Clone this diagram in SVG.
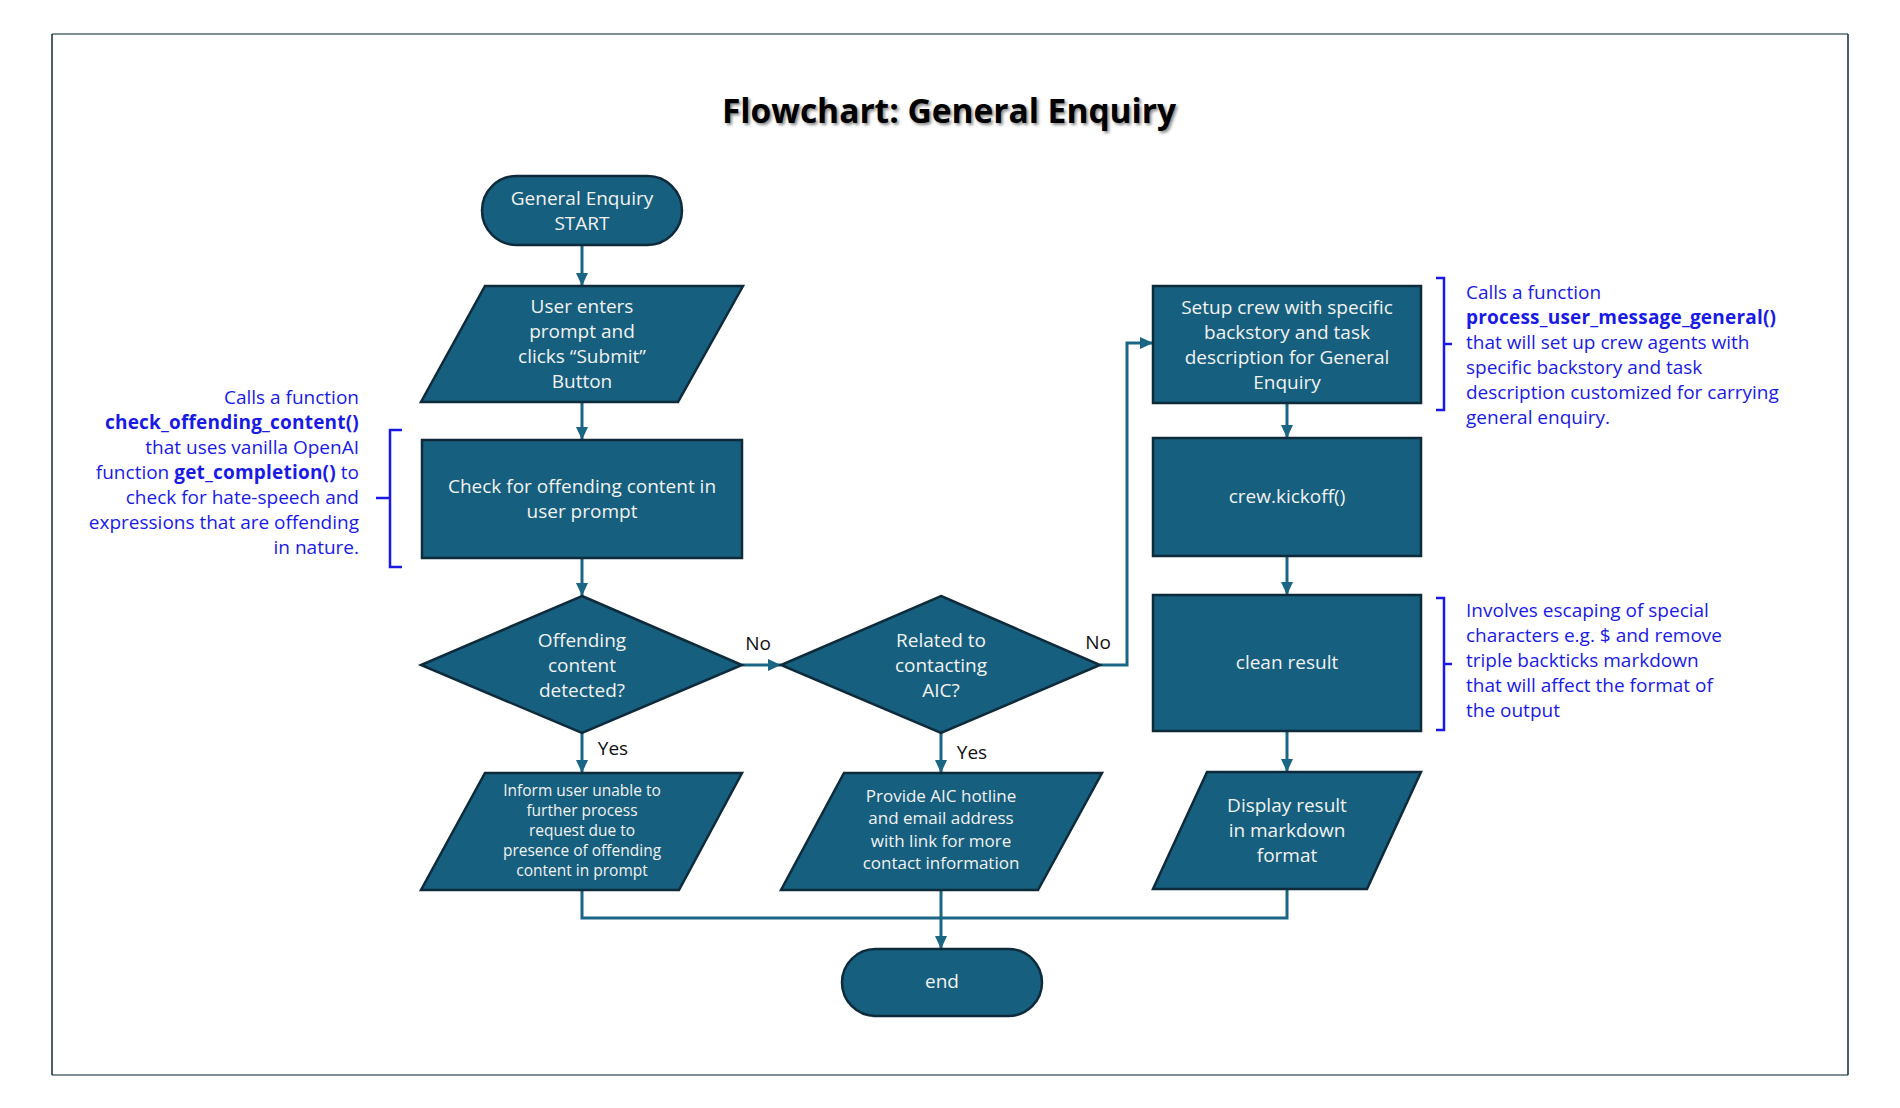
<svg xmlns="http://www.w3.org/2000/svg" width="1900" height="1108" viewBox="0 0 1900 1108">
<style>
.node{fill:#165f7e;stroke:#0e2b3b;stroke-width:2.5}
.nt{font-family:"Open Sans","Liberation Sans",sans-serif;font-size:19px;fill:#f2f2f2;text-anchor:middle}
.sm{font-size:15.5px}
.md{font-size:17px}
.lbl{font-family:"Open Sans","Liberation Sans",sans-serif;font-size:19px;fill:#111;text-anchor:middle}
.ann{font-family:"Open Sans","Liberation Sans",sans-serif;font-size:19px;fill:#1a1ae6}
.b{font-weight:bold;letter-spacing:0.2px}
.con{fill:none;stroke:#1b6585;stroke-width:3}
.brace{fill:none;stroke:#1a1ae6;stroke-width:2.5}
.title{font-family:"Open Sans","Liberation Sans",sans-serif;font-size:33.5px;font-weight:bold;text-anchor:middle}
</style>
<defs>
<marker id="arr" markerUnits="userSpaceOnUse" markerWidth="14" markerHeight="14" refX="13" refY="7" orient="auto">
<path d="M0,1 L13,7 L0,13 Z" fill="#1b6585"/>
</marker>
<filter id="sh" x="-10%" y="-30%" width="120%" height="160%">
<feGaussianBlur stdDeviation="1.5"/>
</filter>
</defs>
<rect width="1900" height="1108" fill="#fff"/>
<g id="frame">
<line x1="52" y1="34" x2="1848" y2="34" stroke="#7f9097" stroke-width="2"/>
<line x1="52" y1="1075" x2="1848" y2="1075" stroke="#7f9097" stroke-width="2"/>
<line x1="52" y1="34" x2="52" y2="1075" stroke="#0e2b3b" stroke-width="1.5"/>
<line x1="1848" y1="34" x2="1848" y2="1075" stroke="#0e2b3b" stroke-width="1.5"/>
</g>
<g id="title">
<text class="title" x="951" y="125" fill="#888" filter="url(#sh)">Flowchart: General Enquiry</text>
<text class="title" x="949" y="123" fill="#000">Flowchart: General Enquiry</text>
</g>
<g id="connectors">
<line class="con" x1="582" y1="245" x2="582" y2="286" marker-end="url(#arr)"/>
<line class="con" x1="582" y1="402" x2="582" y2="440" marker-end="url(#arr)"/>
<line class="con" x1="582" y1="558" x2="582" y2="596" marker-end="url(#arr)"/>
<line class="con" x1="582" y1="733" x2="582" y2="773" marker-end="url(#arr)"/>
<line class="con" x1="742" y1="665" x2="781" y2="665" marker-end="url(#arr)"/>
<line class="con" x1="941" y1="733" x2="941" y2="773" marker-end="url(#arr)"/>
<polyline class="con" points="1100,665 1127,665 1127,343 1153,343" marker-end="url(#arr)"/>
<line class="con" x1="1287" y1="403" x2="1287" y2="438" marker-end="url(#arr)"/>
<line class="con" x1="1287" y1="556" x2="1287" y2="595" marker-end="url(#arr)"/>
<line class="con" x1="1287" y1="731" x2="1287" y2="772" marker-end="url(#arr)"/>
<polyline class="con" points="582,890 582,918 1287,918 1287,889"/>
<line class="con" x1="941" y1="890" x2="941" y2="949" marker-end="url(#arr)"/>
<text class="lbl" x="758" y="650">No</text>
<text class="lbl" x="1098" y="649">No</text>
<text class="lbl" x="613" y="755">Yes</text>
<text class="lbl" x="972" y="759">Yes</text>
</g>
<g id="start">
<rect class="node" x="482" y="176" width="200" height="69" rx="34.5"/>
<text class="nt" x="582" y="205">General Enquiry</text>
<text class="nt" x="582" y="230">START</text>
</g>
<g id="user-input">
<polygon class="node" points="485,286 743,286 678,402 421,402"/>
<text class="nt" x="582" y="313">User enters</text>
<text class="nt" x="582" y="338">prompt and</text>
<text class="nt" x="582" y="363">clicks “Submit”</text>
<text class="nt" x="582" y="388">Button</text>
</g>
<g id="check">
<rect class="node" x="422" y="440" width="320" height="118"/>
<text class="nt" x="582" y="493">Check for offending content in</text>
<text class="nt" x="582" y="518">user prompt</text>
</g>
<g id="offending-decision">
<polygon class="node" points="582,596 742,665 582,733 421,665"/>
<text class="nt" x="582" y="647">Offending</text>
<text class="nt" x="582" y="672">content</text>
<text class="nt" x="582" y="697">detected?</text>
</g>
<g id="aic-decision">
<polygon class="node" points="941,596 1100,665 941,733 781,665"/>
<text class="nt" x="941" y="647">Related to</text>
<text class="nt" x="941" y="672">contacting</text>
<text class="nt" x="941" y="697">AIC?</text>
</g>
<g id="inform">
<polygon class="node" points="485,773 742,773 679,890 421,890"/>
<text class="nt sm" x="582" y="796">Inform user unable to</text>
<text class="nt sm" x="582" y="816">further process</text>
<text class="nt sm" x="582" y="836">request due to</text>
<text class="nt sm" x="582" y="856">presence of offending</text>
<text class="nt sm" x="582" y="876">content in prompt</text>
</g>
<g id="provide">
<polygon class="node" points="844,773 1102,773 1038,890 781,890"/>
<text class="nt md" x="941" y="802">Provide AIC hotline</text>
<text class="nt md" x="941" y="824">and email address</text>
<text class="nt md" x="941" y="847">with link for more</text>
<text class="nt md" x="941" y="869">contact information</text>
</g>
<g id="setup">
<rect class="node" x="1153" y="286" width="268" height="117"/>
<text class="nt" x="1287" y="314">Setup crew with specific</text>
<text class="nt" x="1287" y="339">backstory and task</text>
<text class="nt" x="1287" y="364">description for General</text>
<text class="nt" x="1287" y="389">Enquiry</text>
</g>
<g id="kickoff">
<rect class="node" x="1153" y="438" width="268" height="118"/>
<text class="nt" x="1287" y="503">crew.kickoff()</text>
</g>
<g id="clean">
<rect class="node" x="1153" y="595" width="268" height="136"/>
<text class="nt" x="1287" y="669">clean result</text>
</g>
<g id="display">
<polygon class="node" points="1207,772 1421,772 1367,889 1153,889"/>
<text class="nt" x="1287" y="812">Display result</text>
<text class="nt" x="1287" y="837">in markdown</text>
<text class="nt" x="1287" y="862">format</text>
</g>
<g id="end">
<rect class="node" x="842" y="949" width="200" height="67" rx="33.5"/>
<text class="nt" x="942" y="988">end</text>
</g>
<g id="note-left">
<path class="brace" d="M402,430 L390,430 L390,567 L402,567 M390,498 L376,498"/>
<text class="ann" text-anchor="end" x="359" y="404">Calls a function</text>
<text class="ann b" text-anchor="end" x="359" y="429">check_offending_content()</text>
<text class="ann" text-anchor="end" x="359" y="454">that uses vanilla  OpenAI</text>
<text class="ann" text-anchor="end" x="359" y="479">function <tspan class="b">get_completion()</tspan> to</text>
<text class="ann" text-anchor="end" x="359" y="504">check for hate-speech and</text>
<text class="ann" text-anchor="end" x="359" y="529">expressions that are offending</text>
<text class="ann" text-anchor="end" x="359" y="554">in nature.</text>
</g>
<g id="note-setup">
<path class="brace" d="M1436,278 L1444,278 L1444,410 L1436,410 M1444,344 L1452,344"/>
<text class="ann" x="1466" y="299">Calls a function</text>
<text class="ann b" x="1466" y="324">process_user_message_general()</text>
<text class="ann" x="1466" y="349">that will set up crew agents with</text>
<text class="ann" x="1466" y="374">specific backstory and task</text>
<text class="ann" x="1466" y="399">description customized for carrying</text>
<text class="ann" x="1466" y="424">general enquiry.</text>
</g>
<g id="note-clean">
<path class="brace" d="M1436,598 L1444,598 L1444,730 L1436,730 M1444,664 L1452,664"/>
<text class="ann" x="1466" y="617">Involves escaping of special</text>
<text class="ann" x="1466" y="642">characters e.g. $ and remove</text>
<text class="ann" x="1466" y="667">triple backticks markdown</text>
<text class="ann" x="1466" y="692">that will affect the format of</text>
<text class="ann" x="1466" y="717">the output</text>
</g>
</svg>
